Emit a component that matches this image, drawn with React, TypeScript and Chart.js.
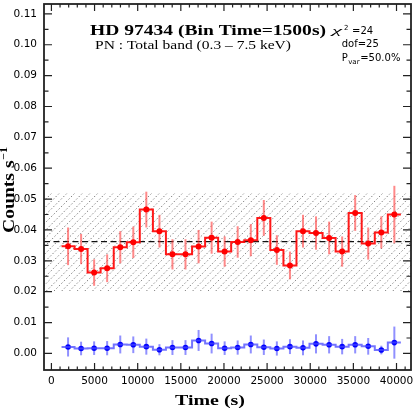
import React, { useEffect, useRef } from "react";
import { Chart, registerables } from "chart.js";

Chart.register(...registerables);

// ---- data ----
const TIMES = [
  1930, 3440, 4950, 6460, 7980, 9490, 11000, 12520, 14030, 15540, 17060, 18570, 20080,
  21590, 23110, 24620, 26130, 27650, 29160, 30670, 32190, 33700, 35210, 36720, 38240, 39750,
];
const SOURCE_RATE = [
  0.0347, 0.0338, 0.0262, 0.0276, 0.0344, 0.036, 0.0466, 0.0396, 0.0321, 0.0321, 0.0346, 0.0375, 0.033,
  0.0361, 0.0367, 0.0439, 0.0335, 0.0285, 0.0396, 0.039, 0.0374, 0.033, 0.0455, 0.0356, 0.0392, 0.045,
];
const SOURCE_ERR = [
  0.0061, 0.0049, 0.0043, 0.0045, 0.0052, 0.0051, 0.0058, 0.0053, 0.0049, 0.0049, 0.0054, 0.0052, 0.0049,
  0.0051, 0.0052, 0.0058, 0.0048, 0.0045, 0.0053, 0.0054, 0.0053, 0.0049, 0.0058, 0.0052, 0.0052, 0.0093,
];
const BKG_RATE = [
  0.0021, 0.0016, 0.0017, 0.0017, 0.0029, 0.0028, 0.0022, 0.0012, 0.0019, 0.0019, 0.0042, 0.0032, 0.0017,
  0.0019, 0.0029, 0.002, 0.0016, 0.0022, 0.0018, 0.0031, 0.0028, 0.0022, 0.0028, 0.0023, 0.0011, 0.0035,
];
const BKG_ERR = [
  0.0031, 0.0022, 0.0022, 0.0023, 0.0029, 0.0027, 0.0026, 0.0018, 0.0024, 0.0024, 0.0034, 0.0032, 0.0022,
  0.0023, 0.0029, 0.0025, 0.0023, 0.0024, 0.0024, 0.0031, 0.0028, 0.0025, 0.0028, 0.0027, 0.0014, 0.0052,
];
const HALF_BIN = 756;
const MEAN_RATE = 0.0362;
const BAND_LOW = 0.0202;
const BAND_HIGH = 0.0519;

const X_TICKS = [0, 5000, 10000, 15000, 20000, 25000, 30000, 35000, 40000];
const Y_TICKS = [0, 0.01, 0.02, 0.03, 0.04, 0.05, 0.06, 0.07, 0.08, 0.09, 0.1, 0.11];
const X_MIN = -860;
const X_MAX = 41680;
const Y_MIN = -0.00537;
const Y_MAX = 0.1132;

const TITLE = "HD 97434 (Bin Time=1500s)";
const SUBTITLE = "PN : Total band (0.3 \u2013 7.5 keV)";
const CHI2 = "24";
const DOF = "25";
const PVAR = "50.0%";
const X_TITLE = "Time (s)";
const Y_TITLE = "Counts s";

function stepData(vals: number[]) {
  const pts = TIMES.map((t, i) => ({ x: t - HALF_BIN, y: vals[i] }));
  const n = TIMES.length - 1;
  pts.push({ x: TIMES[n] + HALF_BIN, y: vals[n] });
  return pts;
}

// draw text with given font, stretched horizontally to a target width
function drawStretched(
  ctx: CanvasRenderingContext2D,
  text: string,
  x: number,
  y: number,
  font: string,
  targetW: number,
  align: "left" | "center"
) {
  ctx.save();
  ctx.font = font;
  ctx.textAlign = "left";
  const w = ctx.measureText(text).width;
  const sx = targetW / w;
  const x0 = align === "center" ? x - targetW / 2 : x;
  ctx.translate(x0, y);
  ctx.scale(sx, 1);
  ctx.fillText(text, 0, 0);
  ctx.restore();
  return targetW;
}

const serif = "'Liberation Serif'";
const sans = "'DejaVu Sans'";

const decorPlugin = {
  id: "decor",
  beforeDatasetsDraw(chart: any) {
    const { ctx, chartArea: a, scales } = chart;
    const xs = scales.x;
    const ys = scales.y;
    // hatched band
    const yTop = ys.getPixelForValue(BAND_HIGH);
    const yBot = ys.getPixelForValue(BAND_LOW);
    ctx.save();
    ctx.beginPath();
    ctx.rect(a.left, yTop, a.right - a.left, yBot - yTop);
    ctx.clip();
    ctx.strokeStyle = "rgba(0,0,0,0.55)";
    ctx.lineWidth = 0.9;
    ctx.setLineDash([1.5, 2]);
    const h = yBot - yTop;
    for (let x0 = a.left - h; x0 < a.right + 8; x0 += 7.7) {
      ctx.beginPath();
      ctx.moveTo(x0, yBot);
      ctx.lineTo(x0 + h, yTop);
      ctx.stroke();
    }
    ctx.restore();
    // mean dashed line
    ctx.save();
    const ym = ys.getPixelForValue(MEAN_RATE);
    ctx.strokeStyle = "#111";
    ctx.lineWidth = 1.2;
    ctx.setLineDash([6, 3.5]);
    ctx.beginPath();
    ctx.moveTo(a.left, ym);
    ctx.lineTo(a.right, ym);
    ctx.stroke();
    ctx.restore();
    // error bars
    const bars = (vals: number[], errs: number[], color: string) => {
      ctx.save();
      ctx.strokeStyle = color;
      ctx.lineWidth = 2;
      TIMES.forEach((t, i) => {
        const px = xs.getPixelForValue(t);
        ctx.beginPath();
        ctx.moveTo(px, ys.getPixelForValue(vals[i] - errs[i]));
        ctx.lineTo(px, ys.getPixelForValue(vals[i] + errs[i]));
        ctx.stroke();
      });
      ctx.restore();
    };
    bars(SOURCE_RATE, SOURCE_ERR, "rgba(255,40,40,0.55)");
    bars(BKG_RATE, BKG_ERR, "rgba(70,70,255,0.6)");
  },
  afterDraw(chart: any) {
    const { ctx, chartArea: a, scales } = chart;
    const xs = scales.x;
    const ys = scales.y;
    ctx.save();
    // ticks
    ctx.strokeStyle = "#222";
    ctx.lineWidth = 1.2;
    ctx.beginPath();
    for (let v = 0; v <= X_MAX; v += 1000) {
      const px = xs.getPixelForValue(v);
      const len = v % 5000 === 0 ? 7 : 3.5;
      ctx.moveTo(px, a.bottom);
      ctx.lineTo(px, a.bottom - len);
      ctx.moveTo(px, a.top);
      ctx.lineTo(px, a.top + len);
    }
    for (let k = 0; k * 0.005 <= Y_MAX; k++) {
      const py = ys.getPixelForValue(k * 0.005);
      const len = k % 2 === 0 ? 8 : 4.5;
      ctx.moveTo(a.left, py);
      ctx.lineTo(a.left + len, py);
      ctx.moveTo(a.right, py);
      ctx.lineTo(a.right - len, py);
    }
    ctx.stroke();
    // frame
    ctx.lineWidth = 1.8;
    ctx.strokeRect(a.left, a.top, a.right - a.left, a.bottom - a.top);

    // texts
    ctx.fillStyle = "#000";
    ctx.textBaseline = "alphabetic";
    ctx.textAlign = "left";
    drawStretched(ctx, TITLE, 90, 35, `bold 15px ${serif}`, 236, "left");
    drawStretched(ctx, SUBTITLE, 95, 49.3, `normal 11.5px ${serif}`, 196, "left");

    // chi2
    drawStretched(ctx, "\u03c7", 332, 34, `italic 10.5px ${serif}`, 10, "left");
    ctx.font = `normal 7px ${sans}`;
    ctx.fillText("2", 344, 29.5);
    ctx.font = `normal 10px ${sans}`;
    ctx.fillText("=" + CHI2, 352, 33.5);
    ctx.fillText("dof=" + DOF, 341.7, 46.7);
    ctx.fillText("P", 341.7, 61);
    const pw = ctx.measureText("P").width;
    ctx.font = `normal 7px ${sans}`;
    ctx.fillText("var", 341.7 + pw + 0.5, 64);
    const vw = ctx.measureText("var").width;
    ctx.font = `normal 10px ${sans}`;
    ctx.fillText("=" + PVAR, 341.7 + pw + vw + 1.2, 61);

    // x title
    drawStretched(ctx, X_TITLE, 210, 405, `bold 15px ${serif}`, 70, "center");

    // y title
    ctx.translate(14, 233);
    ctx.rotate(-Math.PI / 2);
    const ys0 = 16.5;
    ctx.font = `bold ${ys0}px ${serif}`;
    const cw = ctx.measureText("Counts").width;
    const sx = 60 / cw;
    ctx.save();
    ctx.scale(sx, 1);
    ctx.fillText(Y_TITLE, 0, 0);
    const yw = ctx.measureText(Y_TITLE).width;
    ctx.font = `bold ${ys0 * 0.62}px ${serif}`;
    ctx.fillText("\u22121", yw + 0.5, -ys0 * 0.42);
    ctx.restore();
    ctx.restore();
  },
};

export default function App() {
  const ref = useRef<HTMLCanvasElement | null>(null);
  useEffect(() => {
    if (!ref.current) return;
    const chart = new Chart(ref.current, {
      type: "line",
      data: {
        datasets: [
          {
            data: stepData(SOURCE_RATE),
            stepped: "before",
            borderColor: "rgba(255,0,0,0.9)",
            borderWidth: 2,
            pointRadius: 0,
            fill: false,
          },
          {
            data: TIMES.map((t, i) => ({ x: t, y: SOURCE_RATE[i] })),
            showLine: false,
            pointRadius: 3,
            pointBackgroundColor: "#ff0000",
            pointBorderWidth: 0,
          },
          {
            data: stepData(BKG_RATE),
            stepped: "before",
            borderColor: "rgba(70,70,255,0.75)",
            borderWidth: 2,
            pointRadius: 0,
            fill: false,
          },
          {
            data: TIMES.map((t, i) => ({ x: t, y: BKG_RATE[i] })),
            showLine: false,
            pointRadius: 2.8,
            pointBackgroundColor: "#0000ff",
            pointBorderWidth: 0,
          },
        ],
      },
      options: {
        animation: false,
        responsive: false,
        devicePixelRatio: 1,
        layout: { padding: { top: 1.5, right: 4, left: 0, bottom: 0 } },
        plugins: { legend: { display: false }, tooltip: { enabled: false } },
        scales: {
          x: {
            type: "linear",
            min: X_MIN,
            max: X_MAX,
            afterBuildTicks: (sc: any) => {
              sc.ticks = X_TICKS.map((v) => ({ value: v }));
            },
            afterFit: (sc: any) => {
              sc.height = 38;
              sc.paddingLeft = 0;
              sc.paddingRight = 0;
            },
            ticks: {
              autoSkip: false,
              maxRotation: 0,
              padding: 5,
              color: "#000",
              font: { family: "'DejaVu Sans'", size: 10.5 },
              callback: (v: any) => String(v),
            },
            grid: { display: false, drawTicks: false },
            border: { display: false },
          },
          y: {
            type: "linear",
            min: Y_MIN,
            max: Y_MAX,
            afterBuildTicks: (sc: any) => {
              sc.ticks = Y_TICKS.map((v) => ({ value: v }));
            },
            afterFit: (sc: any) => {
              sc.width = 44;
              sc.paddingTop = 0;
              sc.paddingBottom = 0;
            },
            ticks: {
              autoSkip: false,
              padding: 7,
              color: "#000",
              font: { family: "'DejaVu Sans'", size: 10.5 },
              callback: (v: any) => Number(v).toFixed(2),
            },
            grid: { display: false, drawTicks: false },
            border: { display: false },
          },
        },
      },
      plugins: [decorPlugin],
    } as any);
    return () => chart.destroy();
  }, []);
  return (
    <div style={{ position: "absolute", left: 0, top: 0, width: 415, height: 408, background: "#fff" }}>
      <canvas ref={ref} width={415} height={408} style={{ display: "block" }} />
    </div>
  );
}
